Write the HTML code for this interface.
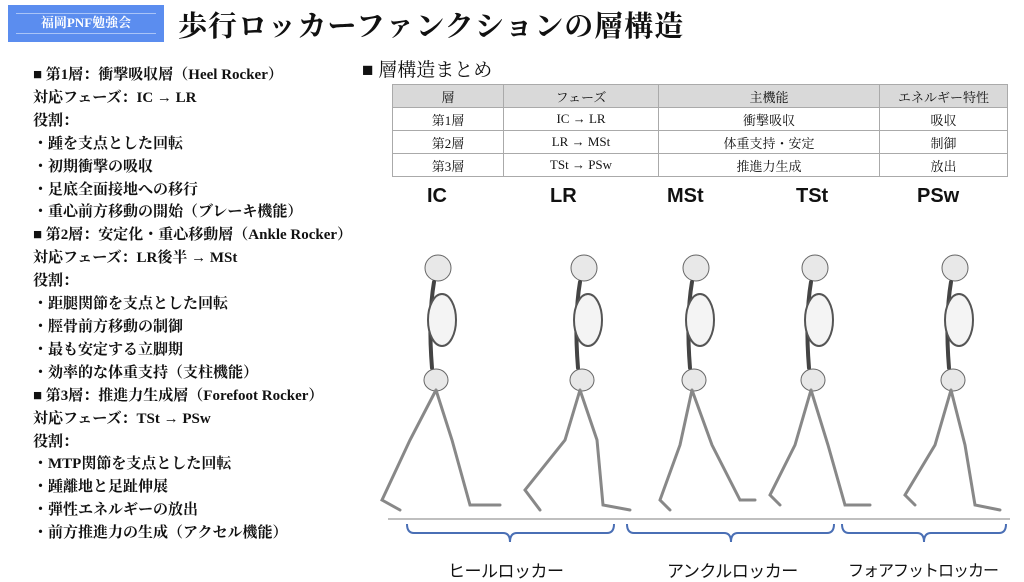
<!DOCTYPE html>
<html><head><meta charset="utf-8"><style>
body{margin:0;width:1024px;height:582px;background:#fff;position:relative;overflow:hidden;font-family:"Liberation Serif","Noto Serif CJK SC","Noto Sans CJK JP",serif;color:#111}
.badge{position:absolute;left:8px;top:5px;width:156px;height:37px;background:#5b8def;color:#fff;font-size:13px;font-weight:bold;text-align:center;line-height:36px}
.badge:after{content:"";position:absolute;left:8px;right:8px;bottom:8px;border-bottom:1px solid #a9c4f7}
.badge:before{content:"";position:absolute;left:8px;right:8px;top:8px;border-top:1px solid #a9c4f7}
.title{position:absolute;left:178px;top:4px;font-size:29px;font-weight:bold;letter-spacing:1px}
.left{position:absolute;left:33px;top:64px;font-size:15px;line-height:22.9px;font-weight:bold}
.h2{position:absolute;left:362px;top:55px;font-size:19px}
table{position:absolute;left:392px;top:84px;width:616px;border-collapse:collapse;font-size:13px}
td{border:1px solid #aaa;height:22px;text-align:center;padding:0}
tr:first-child td{background:#d9d9d9}
.ph{position:absolute;top:185px;font-family:"Liberation Sans",sans-serif;font-weight:bold;font-size:20px}
.lab{position:absolute;top:557px;font-family:"Liberation Sans","Noto Sans CJK JP",sans-serif;font-size:17px;white-space:nowrap;letter-spacing:-0.5px}
</style></head><body>
<div class="badge">福岡PNF勉強会</div>
<div class="title">歩行ロッカーファンクションの層構造</div>
<div class="left">■ 第1層：衝撃吸収層（Heel Rocker）<br>対応フェーズ：IC → LR<br>役割：<br>・踵を支点とした回転<br>・初期衝撃の吸収<br>・足底全面接地への移行<br>・重心前方移動の開始（ブレーキ機能）<br>■ 第2層：安定化・重心移動層（Ankle Rocker）<br>対応フェーズ：LR後半 → MSt<br>役割：<br>・距腿関節を支点とした回転<br>・脛骨前方移動の制御<br>・最も安定する立脚期<br>・効率的な体重支持（支柱機能）<br>■ 第3層：推進力生成層（Forefoot Rocker）<br>対応フェーズ：TSt → PSw<br>役割：<br>・MTP関節を支点とした回転<br>・踵離地と足趾伸展<br>・弾性エネルギーの放出<br>・前方推進力の生成（アクセル機能）</div>
<div class="h2">■ 層構造まとめ</div>
<table>
<tr><td style="width:110px">層</td><td style="width:154px">フェーズ</td><td style="width:220px">主機能</td><td>エネルギー特性</td></tr>
<tr><td>第1層</td><td>IC → LR</td><td>衝撃吸収</td><td>吸収</td></tr>
<tr><td>第2層</td><td>LR → MSt</td><td>体重支持・安定</td><td>制御</td></tr>
<tr><td>第3層</td><td>TSt → PSw</td><td>推進力生成</td><td>放出</td></tr>
</table>
<div class="ph" style="left:427px">IC</div>
<div class="ph" style="left:550px">LR</div>
<div class="ph" style="left:667px">MSt</div>
<div class="ph" style="left:796px">TSt</div>
<div class="ph" style="left:917px">PSw</div>
<svg width="1024" height="582" style="position:absolute;left:0;top:0">
<defs>
<g id="up" fill="#e8e8e8" stroke="#666" stroke-width="1">
<circle cx="0" cy="0" r="13"/>
<path d="M-4 14 Q-10 50 -6 100" fill="none" stroke="#444" stroke-width="4"/>
<ellipse cx="4" cy="52" rx="14" ry="26" fill="#f4f4f4" stroke="#555" stroke-width="2"/>
<ellipse cx="-2" cy="112" rx="12" ry="11"/>
</g>
</defs>
<g stroke="#888" stroke-width="3" fill="none" stroke-linecap="round">
<use href="#up" x="438" y="268"/>
<path d="M436 390 L410 440 L382 500 L400 510 M436 390 L452 440 L470 505 L500 505"/>
<use href="#up" x="584" y="268"/>
<path d="M580 390 L565 440 L525 490 L540 510 M580 390 L597 440 L603 505 L630 510"/>
<use href="#up" x="696" y="268"/>
<path d="M692 390 L680 445 L660 500 L670 510 M692 390 L712 445 L740 500 L755 500"/>
<use href="#up" x="815" y="268"/>
<path d="M811 390 L795 445 L770 495 L780 505 M811 390 L828 445 L845 505 L870 505"/>
<use href="#up" x="955" y="268"/>
<path d="M951 390 L935 445 L905 495 L915 505 M951 390 L965 445 L975 505 L1000 510"/>
</g>
<line x1="388" y1="519" x2="1010" y2="519" stroke="#aaa" stroke-width="1.5"/>
<g stroke="#4a6fb5" stroke-width="2" fill="none">
<path d="M407 524 Q407 533 414 533 L503 533 Q510 533 510 542 Q510 533 517 533 L607 533 Q614 533 614 524"/>
<path d="M627 524 Q627 533 634 533 L724 533 Q731 533 731 542 Q731 533 738 533 L827 533 Q834 533 834 524"/>
<path d="M842 524 Q842 533 849 533 L917 533 Q924 533 924 542 Q924 533 931 533 L999 533 Q1006 533 1006 524"/>
</g>
</svg>
<div class="lab" style="left:448px">ヒールロッカー</div>
<div class="lab" style="left:667px">アンクルロッカー</div>
<div class="lab" style="left:848px;font-size:16px;letter-spacing:-1px">フォアフットロッカー</div>
</body></html>
